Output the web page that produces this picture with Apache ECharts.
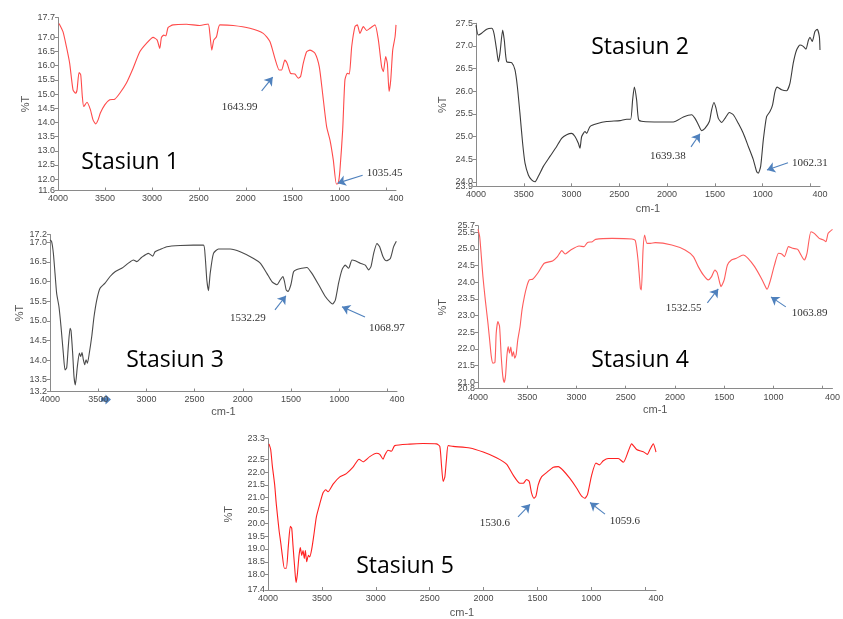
<!DOCTYPE html>
<html>
<head>
<meta charset="utf-8">
<script src="https://cdn.jsdelivr.net/npm/echarts@6/dist/echarts.min.js"></script>
<style>html,body{margin:0;padding:0;background:#fff}#c{width:843px;height:619px}</style>
</head>
<body>
<div id="c"></div>
<script>
// ---------- DATA ----------
const s1Wave = [3989,3947,3911,3876,3840,3812,3797,3776,3758,3741,3726,3691,3655,3627,3598,3573,3549,3502,3449,3396,3342,3271,3200,3129,3058,2987,2945,2916,2898,2873,2852,2827,2774,2632,2490,2401,2383,2362,2340,2312,2276,2134,1956,1814,1743,1690,1644,1619,1584,1559,1523,1477,1441,1416,1388,1352,1317,1263,1217,1182,1139,1103,1068,1035,1015,997,968,944,919,897,872,837,812,784,748,713,677,624,588,553,535,510,492,474,456,435,410,400];
const s1T = [17.49,17.2,16.68,16.09,15.15,15.03,15.15,15.76,15.68,14.92,14.56,14.71,14.45,14.09,13.95,14.09,14.33,14.62,14.8,14.82,15.03,15.39,15.91,16.49,16.79,17.0,16.91,16.61,17.0,17.08,17.05,17.35,17.44,17.46,17.42,17.47,17.14,16.55,16.91,17.02,17.44,17.42,17.32,17.14,16.85,16.26,15.85,15.85,16.2,16.08,15.73,15.71,15.56,15.62,16.08,16.49,16.55,16.44,15.96,15.03,13.85,13.38,12.68,11.83,11.85,12.32,13.73,15.5,15.73,15.71,16.67,17.38,17.44,17.14,17.38,17.24,17.32,17.44,16.91,15.96,15.79,16.32,16.08,15.09,15.5,16.55,17.02,17.44];

const s2Wave = [4000,3976,3941,3888,3836,3812,3784,3766,3749,3721,3704,3679,3627,3592,3567,3540,3512,3487,3452,3418,3383,3348,3295,3226,3156,3104,3051,2999,2964,2929,2912,2894,2859,2842,2807,2737,2633,2493,2423,2382,2361,2343,2319,2298,2249,2075,1935,1830,1743,1708,1673,1639,1604,1558,1534,1510,1489,1464,1429,1394,1349,1307,1255,1203,1150,1098,1062,1046,1021,993,959,924,896,871,847,802,749,714,680,645,610,575,547,522,505,481,453,429,407,400];
const s2T = [27.46,27.24,27.28,27.37,27.39,27.28,26.91,26.65,26.84,27.35,27.13,26.65,26.63,26.47,26.1,25.51,24.85,24.41,24.15,24.04,24.0,24.12,24.34,24.56,24.78,24.96,25.04,25.07,25.0,24.85,24.74,25.0,25.11,25.07,25.22,25.28,25.33,25.35,25.38,25.38,25.81,26.09,25.81,25.37,25.33,25.32,25.32,25.43,25.48,25.4,25.26,25.13,25.18,25.33,25.59,25.75,25.63,25.4,25.31,25.4,25.53,25.48,25.29,25.07,24.78,24.49,24.22,24.19,24.34,24.93,25.44,25.55,25.7,25.99,26.09,26.03,26.01,26.18,26.62,26.91,27.02,26.99,26.93,27.12,27.19,27.1,27.32,27.37,27.21,26.91];

const s3Wave = [4000,3983,3965,3948,3931,3907,3886,3862,3844,3827,3810,3792,3782,3765,3751,3737,3716,3695,3682,3668,3654,3640,3626,3612,3592,3567,3543,3515,3481,3429,3377,3325,3256,3187,3135,3100,3048,2979,2934,2910,2858,2788,2650,2512,2408,2390,2373,2356,2338,2304,2252,2131,2027,1888,1819,1750,1698,1646,1612,1584,1567,1550,1532,1501,1473,1439,1387,1335,1283,1213,1144,1092,1069,1040,1006,971,937,902,867,833,781,729,694,670,642,608,580,546,511,469,435,407];
const s3T = [17.06,17.02,16.72,16.21,15.7,15.36,14.86,14.18,13.75,13.8,14.35,14.81,14.75,14.18,13.58,13.37,13.84,14.18,14.09,14.19,14.01,13.88,14.01,13.92,14.18,14.6,15.11,15.53,15.83,15.96,16.13,16.25,16.34,16.47,16.55,16.51,16.62,16.72,16.65,16.76,16.82,16.89,16.92,16.93,16.93,16.64,16.04,15.77,16.21,16.72,16.83,16.83,16.76,16.59,16.47,16.21,16.0,15.92,16.04,16.13,16.0,15.79,15.75,15.92,16.25,16.31,16.34,16.36,16.21,15.92,15.62,15.47,15.43,15.53,15.96,16.3,16.42,16.34,16.55,16.53,16.47,16.42,16.3,16.38,16.72,16.97,16.89,16.64,16.53,16.59,16.89,17.03];

const s4Wave = [4000,3983,3966,3950,3926,3899,3882,3865,3849,3828,3815,3798,3781,3764,3748,3734,3721,3707,3694,3680,3667,3653,3640,3627,3613,3596,3573,3553,3529,3505,3479,3445,3394,3327,3243,3193,3149,3115,3058,2974,2923,2890,2839,2806,2637,2436,2402,2375,2351,2341,2324,2308,2284,2250,2200,2032,1897,1813,1763,1712,1662,1628,1594,1571,1544,1532,1500,1467,1426,1376,1308,1258,1191,1123,1073,1064,1029,989,948,915,888,847,804,753,720,686,659,619,585,535,491,467,444,400];
const s4T = [25.59,25.37,24.77,24.17,23.47,22.77,22.27,21.77,21.57,21.59,22.47,22.82,22.67,21.77,21.17,20.99,21.17,21.77,22.07,21.87,22.05,21.77,21.92,21.72,21.82,22.27,22.67,23.17,23.57,23.87,24.07,24.09,24.27,24.57,24.64,24.77,24.95,24.85,24.97,25.09,25.07,25.19,25.22,25.29,25.32,25.3,25.25,24.67,23.82,23.77,24.97,25.42,25.17,25.17,25.19,25.12,24.97,24.77,24.47,24.22,24.07,24.17,24.37,24.29,23.97,23.87,24.07,24.52,24.67,24.72,24.82,24.72,24.47,24.12,23.82,23.79,24.07,24.52,24.87,24.85,24.77,25.07,25.02,24.99,24.82,24.67,24.87,25.52,25.47,25.32,25.27,25.22,25.47,25.59];

const s5Wave = [3991,3975,3960,3938,3923,3898,3882,3867,3848,3830,3811,3793,3780,3768,3752,3740,3728,3712,3700,3687,3675,3663,3653,3641,3625,3613,3594,3576,3551,3520,3489,3464,3443,3396,3334,3273,3211,3155,3118,3056,2994,2963,2932,2917,2886,2855,2824,2684,2561,2437,2406,2390,2375,2359,2344,2328,2282,2127,2003,1880,1787,1725,1663,1632,1601,1576,1555,1531,1514,1493,1462,1415,1353,1307,1261,1199,1137,1090,1060,1035,997,957,926,889,843,750,703,657,626,580,518,480,456,425,400];
const s5T = [23.1,22.88,22.25,21.5,20.75,19.75,19.25,18.75,18.25,18.25,19.13,19.88,19.81,19.13,18.25,17.69,18.0,18.75,19.06,18.75,18.94,18.63,18.94,18.5,18.75,18.69,19.0,19.5,20.25,20.75,21.19,21.31,21.23,21.53,21.81,21.94,22.19,22.5,22.4,22.6,22.73,22.69,22.5,22.65,22.85,22.81,23.03,23.09,23.11,23.1,23.0,22.25,21.63,21.81,22.5,23.03,23.0,22.94,22.78,22.56,22.31,21.88,21.56,21.56,21.71,21.63,21.19,20.98,21.06,21.5,21.81,21.98,22.19,22.21,22.06,21.75,21.38,21.06,20.98,21.13,21.88,22.35,22.28,22.44,22.53,22.53,22.38,22.81,23.1,22.88,22.79,22.69,22.88,23.1,22.78];

// tick labels
const xLabelValues = [4000,3500,3000,2500,2000,1500,1000,400];
const xTickValues = [4000,3500,3000,2500,2000,1500,1000,500];
const y1Ticks = [11.6,12.0,12.5,13.0,13.5,14.0,14.5,15.0,15.5,16.0,16.5,17.0,17.7];
const y2Ticks = [23.9,24.0,24.5,25.0,25.5,26.0,26.5,27.0,27.5];
const y3Ticks = [13.2,13.5,14.0,14.5,15.0,15.5,16.0,16.5,17.0,17.2];
const y4Ticks = [20.8,21.0,21.5,22.0,22.5,23.0,23.5,24.0,24.5,25.0,25.5,25.7];
const y5Ticks = [17.4,18.0,18.5,19.0,19.5,20.0,20.5,21.0,21.5,22.0,22.5,23.3];

const stationNames = ['Stasiun 1','Stasiun 2','Stasiun 3','Stasiun 4','Stasiun 5'];
// peak annotations (label, label position, arrow from, arrow to) in data units
const peaks1 = [['1643.99',[2065,14.54],[1831,15.11],[1713,15.6]],['1035.45',[521,12.21],[755,12.14],[1021,11.86]]];
const peaks2 = [['1639.38',[1991,24.57],[1750,24.77],[1656,25.06]],['1062.31',[505,24.42],[735,24.42],[955,24.26]]];
const peaks3 = [['1532.29',[1946,15.08],[1666,15.28],[1552,15.64]],['1068.97',[504,14.82],[732,15.1],[971,15.36]]];
const peaks4 = [['1532.55',[1913,23.23],[1671,23.38],[1560,23.8]],['1063.89',[632,23.08],[874,23.26],[1025,23.56]]];
const peaks5 = [['1530.6',[1894,19.99],[1680,20.25],[1569,20.74]],['1059.6',[688,20.1],[873,20.36],[1012,20.81]]];

// ---------- LAYOUT ----------
const panels = [
  {wave:s1Wave, t:s1T, yt:y1Ticks, peaks:peaks1, grid:{left:58, top:17.5, width:338, height:173}, color:'#ff4a4a', yGap:27, xName:'', xGap:18, title:[130,162]},
  {wave:s2Wave, t:s2T, yt:y2Ticks, peaks:peaks2, grid:{left:476, top:23.3, width:344, height:163}, color:'#3c3c3c', yGap:28, xName:'cm-1', xGap:17, title:[640,47]},
  {wave:s3Wave, t:s3T, yt:y3Ticks, peaks:peaks3, grid:{left:50, top:234.5, width:347, height:157}, color:'#4a4a4a', yGap:24, xName:'cm-1', xGap:15, title:[175,360]},
  {wave:s4Wave, t:s4T, yt:y4Ticks, peaks:peaks4, grid:{left:478, top:225.7, width:357, height:163}, color:'#ff5c5c', yGap:30, xName:'cm-1', xGap:16, title:[640,360]},
  {wave:s5Wave, t:s5T, yt:y5Ticks, peaks:peaks5, grid:{left:268, top:438.7, width:388, height:157}, color:'#ff2020', yGap:34, xName:'cm-1', xGap:17, title:[405,566]}
];

const axisGray = '#8a8a8a';
const labelColor = '#4a4a4a';
const arrowBlue = '#4f81bd';
const grids = [], xAxes = [], yAxes = [], series = [], graphics = [];
const yLabelBase = {fontFamily:'Liberation Sans', fontSize:9, color:labelColor, margin:3,
  hideOverlap:false, showMinLabel:true, showMaxLabel:true, formatter:v => v.toFixed(1)};

panels.forEach((p, i) => {
  grids.push(Object.assign({containLabel:false}, p.grid));
  xAxes.push({
    type:'value', gridIndex:i, min:400, max:4000, inverse:true,
    name:p.xName, nameLocation:'middle', nameGap:p.xGap,
    nameTextStyle:{fontFamily:'Liberation Sans', fontSize:11, color:'#555'},
    axisLine:{show:true, lineStyle:{color:axisGray, width:1}},
    axisTick:{show:true, inside:true, length:3, customValues:xTickValues, lineStyle:{color:axisGray}},
    axisLabel:{show:true, customValues:xLabelValues, fontFamily:'Liberation Sans', fontSize:9, color:labelColor, margin:4,
      hideOverlap:false, showMinLabel:true, showMaxLabel:true, formatter:v => String(Math.round(v))},
    splitLine:{show:false}
  });
  const yMin = p.yt[0], yMax = p.yt[p.yt.length-1];
  // main axis: line, all ticks, interior labels
  yAxes.push({
    type:'value', gridIndex:i, min:yMin, max:yMax, position:'left',
    name:'%T', nameLocation:'middle', nameRotate:90, nameGap:p.yGap,
    nameTextStyle:{fontFamily:'Liberation Sans', fontSize:11, color:'#555'},
    axisLine:{show:true, lineStyle:{color:axisGray, width:1}},
    axisTick:{show:true, inside:false, length:3, customValues:p.yt, lineStyle:{color:axisGray}},
    axisLabel:Object.assign({show:true, customValues:p.yt.slice(1, -1)}, yLabelBase),
    splitLine:{show:false}
  });
  // companion axis carrying only the end labels (so they are not dropped for overlap)
  yAxes.push({
    type:'value', gridIndex:i, min:yMin, max:yMax, position:'left', offset:0,
    axisLine:{show:false}, axisTick:{show:false},
    axisLabel:Object.assign({show:true, customValues:[yMin, yMax]}, yLabelBase),
    splitLine:{show:false}
  });
  series.push({
    type:'line', xAxisIndex:i, yAxisIndex:2*i,
    data:p.wave.map((w, k) => [w, p.t[k]]),
    showSymbol:false, symbol:'none', smooth:0.2,
    lineStyle:{color:p.color, width:1.1},
    clip:false,
    markLine:{
      silent:true, symbol:['none','arrow'], symbolSize:8, precision:4,
      lineStyle:{color:arrowBlue, width:1.1, type:'solid'},
      itemStyle:{color:arrowBlue},
      label:{show:false}, emphasis:{disabled:true},
      data:p.peaks.map(pk => [{coord:pk[2], symbol:'none'},{coord:pk[3], symbol:'arrow', symbolSize:8, itemStyle:{color:arrowBlue}}])
    },
    markPoint:{
      silent:true,
      data:p.peaks.map(pk => ({
        coord:pk[1], symbol:'rect', symbolSize:1,
        itemStyle:{color:'rgba(0,0,0,0)'},
        label:{show:true, position:'inside', formatter:pk[0], fontFamily:'Liberation Serif', fontSize:11, color:'#333'}
      }))
    }
  });
  graphics.push({
    type:'text', x:p.title[0], y:p.title[1],
    style:{text:stationNames[i], font:'23px "Open Sans"', fill:'#000',
      textAlign:'center', textVerticalAlign:'middle', align:'center', verticalAlign:'middle'}
  });
});

// small blue arrow artefact over the "3500" label of Stasiun 3
graphics.push({type:'polygon', shape:{points:[[101,397.5],[105.5,397.5],[105.5,394.5],[111,399.5],[105.5,404.5],[105.5,401.5],[101,401.5]]}, style:{fill:arrowBlue}});

const chart = echarts.init(document.getElementById('c'), null, {renderer:'canvas'});
chart.setOption({
  animation:false,
  backgroundColor:'#fff',
  grid:grids, xAxis:xAxes, yAxis:yAxes, series:series, graphic:graphics
});
</script>
</body>
</html>
